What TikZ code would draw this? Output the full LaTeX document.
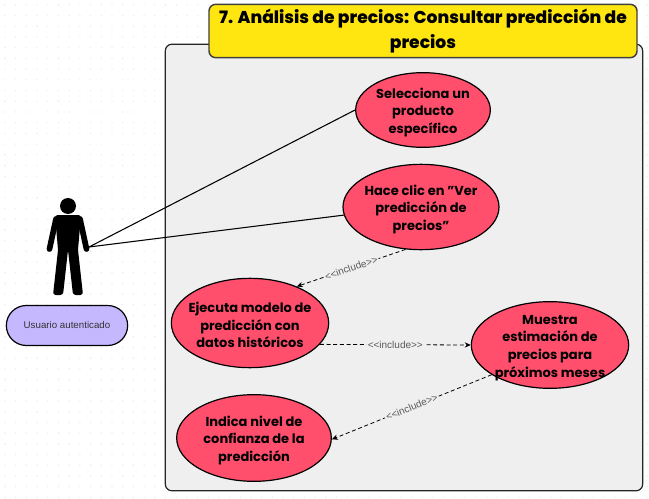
\documentclass[tikz,border=0pt]{standalone}
\usepackage{fontspec}
\setmainfont{Poppins}
\newfontfamily\labelfont{Liberation Sans}
\newfontfamily\titlefont{Poppins ExtraBold}
\usepackage{xcolor}
\usetikzlibrary{arrows.meta,shapes.geometric,positioning}
\definecolor{framegray}{HTML}{EFEFEF}
\definecolor{casered}{HTML}{FF4F6D}
\definecolor{titleyellow}{HTML}{FFE611}
\definecolor{pillviolet}{HTML}{C5B8FF}
\definecolor{dotgray}{HTML}{EDEDED}
\newcommand{\casetop}{\rule{0pt}{11pt}}

\begin{document}
\begin{tikzpicture}[
        x=0.75pt, y=-0.75pt,
        usecase/.style={ellipse, draw=black, line width=0.9pt, fill=casered, inner sep=-12pt, align=center, font=\fontsize{9.75pt}{13.2pt}\selectfont\bfseries},
        include/.style={-{Stealth[length=4.5pt,width=4pt]}, densely dashed, line width=0.6pt},
        includelabel/.style={midway, sloped, fill=framegray, inner sep=1pt, text=black!65, font=\labelfont\fontsize{7.5pt}{8pt}\selectfont},
        assoc/.style={line width=0.8pt}
    ]
    
    % Fix the page size
    \useasboundingbox (0,0) rectangle (649,499);
    \fill[white] (0,0) rectangle (649,499);
    
    % Faint dots behind everything
    \foreach \i in {0,...,60} {
        \foreach \j in {0,...,46} {
            \fill[dotgray] (5+10.7*\i,5+10.7*\j) circle (0.6pt);
        }
    }
    
    % System frame and title
    \node[draw=black!85, line width=0.9pt, rounded corners=5pt, fill=framegray, minimum width=358pt, minimum height=335pt, inner sep=0pt] (frame) at (404,267.5) {};
    \node[draw=black!75, line width=1.1pt, rounded corners=5pt, fill=titleyellow, minimum width=321pt, minimum height=40pt, inner sep=0pt, align=center, font=\fontsize{12.85pt}{18.5pt}\titlefont] (title) at (423,31) {7. Análisis de precios: Consultar predicción de\\precios};
    
    % Use cases
    \node[usecase, minimum width=101pt, minimum height=56pt] (select) at (423,110) {\casetop Selecciona un\\producto\\específico};
    \node[usecase, minimum width=117pt, minimum height=64pt] (click) at (421,207) {\casetop Hace clic en "Ver\\predicción de\\precios"};
    \node[usecase, minimum width=118pt, minimum height=67pt] (model) at (250,323) {\casetop Ejecuta modelo de\\predicción con\\datos históricos};
    \node[usecase, minimum width=118pt, minimum height=65pt] (estimate) at (550,345) {\casetop Muestra\\estimación de\\precios para\\próximos meses};
    \node[usecase, minimum width=116pt, minimum height=65pt] (confidence) at (254,438) {\casetop Indica nivel de\\confianza de la\\predicción};
    
    % Actor figure
    \fill[black] (68,206) circle (6pt);
    \fill[black, rounded corners=2pt] (55,215) -- (81,215) -- (78,250) -- (83,295) -- (73,295) -- (68,250) -- (63,295) -- (53,295) -- (58,250) -- cycle;
    \draw[black, line width=4.3pt, line cap=round] (56,219) -- (49.5,249);
    \draw[black, line width=4.3pt, line cap=round] (80,219) -- (86.5,249);
    \coordinate (hand) at (89,247);
    
    % Actor name
    \node[draw=black, line width=0.9pt, rounded corners=15pt, fill=pillviolet, minimum width=91pt, minimum height=30pt, inner sep=0pt, text=black!80, font=\labelfont\fontsize{7.3pt}{8pt}\selectfont] (actor) at (67,325.5) {Usuario autenticado};
    
    % Associations
    \draw[assoc] (hand) -- (select.west);
    \draw[assoc] (hand) -- (click.186);
    
    % Includes
    \draw[include] (click.-110) -- node[includelabel] {<<include>>} (model.38);
    \draw[include] (model.-17) -- node[includelabel] {<<include>>} (estimate.180);
    \draw[include] (estimate.207) -- node[includelabel] {<<include>>} (confidence.-1);
    
    \end{tikzpicture}
\end{document}
